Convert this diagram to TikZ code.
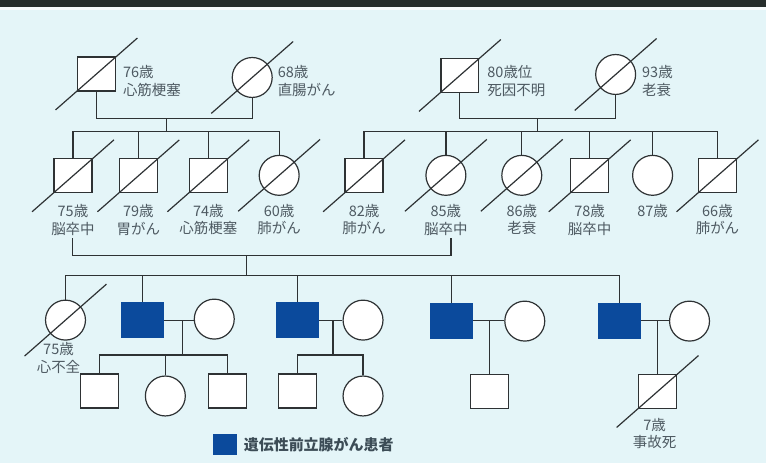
\documentclass[tikz,border=0pt]{standalone}
\usepackage{fontspec}
\setmainfont{Noto Sans CJK JP}
\usetikzlibrary{calc}
\definecolor{bg}{HTML}{E4F5F8}
\definecolor{band}{HTML}{262E2C}
\definecolor{ln}{HTML}{2E3234}
\definecolor{txt}{HTML}{4E5A62}
\definecolor{pblue}{HTML}{0B4A9C}
\definecolor{legtxt}{HTML}{3C4C56}
\tikzset{
  x=1pt, y=-1pt,
  every path/.style={line width=1.2pt, draw=ln},
  male/.style={rectangle, draw=ln, fill=white, line width=1.2pt, minimum width=38pt, minimum height=34pt, inner sep=0pt},
  female/.style={circle, draw=ln, fill=white, line width=1.2pt, minimum size=40pt, inner sep=0pt},
  patient/.style={rectangle, draw=pblue, fill=pblue, minimum width=42pt, minimum height=35pt, inner sep=0pt},
  lbl/.style={text=txt, font=\fontsize{14.5}{17.5}\selectfont, inner sep=0pt, align=center},
  lbll/.style={lbl, align=left, anchor=west},
}
\newcommand{\deadmark}[1]{\draw ($(#1)+(-41,36)$) -- ($(#1)+(41,-36)$);}
\begin{document}
\begin{tikzpicture}
\useasboundingbox (0,0) rectangle (766,463);
\fill[bg] (0,0) rectangle (766,463);
\fill[band] (0,0) rectangle (766,7);
\fill[white!70!bg] (0,7) rectangle (766,9);

% ---- generation 1 ----
\node[male]   (a1) at (96,73.5) {};
\node[female] (b1) at (252,77) {};
\node[male]   (a2) at (460,75) {};
\node[female] (b2) at (616,74) {};
\deadmark{a1}\deadmark{b1}\deadmark{a2}\deadmark{b2}
\node[lbll] (la1) at (122,80.5) {76歳\\心筋梗塞};
\node[lbll] (lb1) at (277,80.5) {68歳\\直腸がん};
\node[lbll] (la2) at (487,80.5) {80歳位\\死因不明};
\node[lbll] (lb2) at (642,80.5) {93歳\\老衰};

\coordinate (m1) at (166,118);
\coordinate (s1) at (166,131);
\coordinate (m2) at (538,118);
\coordinate (s2) at (538,131);
\draw (a1.south) |- (m1) -| (b1.south);
\draw (a2.south) |- (m2) -| (b2.south);
\draw (m1) -- (s1);
\draw (m2) -- (s2);

% ---- generation 2 ----
\node[male]   (c1) at (72.5,175.5) {};
\node[male]   (c2) at (138,175.5) {};
\node[male]   (c3) at (208,175.5) {};
\node[female] (c4) at (279,175) {};
\node[male]   (d1) at (364,175.5) {};
\node[female] (d2) at (446,175) {};
\node[female] (d3) at (522,175) {};
\node[male]   (d4) at (590,175.5) {};
\node[female] (d5) at (653,175) {};
\node[male]   (d6) at (718,175.5) {};
\foreach \n in {c1,c2,c3,c4,d1,d2,d3,d4,d6} {\deadmark{\n}}
\draw (c1.north) |- (s1) -| (c4.north);
\foreach \n in {c2,c3} {\draw (\n.north) -- (\n.north |- s1);}
\draw (d1.north) |- (s2) -| (d6.north);
\foreach \n in {d2,d3,d4,d5} {\draw (\n.north) -- (\n.north |- s2);}

\node[lbl] (lc1) at (72.5,219.5) {75歳\\脳卒中};
\node[lbl] (lc2) at (138,219.5) {79歳\\胃がん};
\node[lbl] (lc3) at (208,219.5) {74歳\\心筋梗塞};
\node[lbl] (lc4) at (279,219.5) {60歳\\肺がん};
\node[lbl] (ld1) at (364,219.5) {82歳\\肺がん};
\node[lbl] (ld2) at (446,219.5) {85歳\\脳卒中};
\node[lbl] (ld3) at (522,219.5) {86歳\\老衰};
\node[lbl] (ld4) at (590,219.5) {78歳\\脳卒中};
\node[lbl] (ld5) at (653,211) {87歳};
\node[lbl] (ld6) at (718,219.5) {66歳\\肺がん};

% marriage of c1 and d2
\coordinate (ml) at (72,238);
\coordinate (mr) at (451,238);
\coordinate (m3) at (246,255);
\coordinate (s3) at (246,275);
\draw (ml) |- (m3) -| (mr);
\draw (m3) -- (s3);

% ---- generation 3 ----
\node[female]  (e1) at (65,320) {};
\node[patient] (e2) at (142,319.5) {};
\node[patient] (e3) at (297,320) {};
\node[patient] (e4) at (452,320.5) {};
\node[patient] (e5) at (620,320.5) {};
\deadmark{e1}
\node[lbl] (le1) at (58,358) {75歳\\心不全};
\draw (e1.north) |- (s3) -| (e5.north);
\foreach \n in {e2,e3,e4} {\draw (\n.north) -- (\n.north |- s3);}

\node[female] (w2) at (214,319) {};
\node[female] (w3) at (363,320) {};
\node[female] (w4) at (525,321) {};
\node[female] (w5) at (690,321) {};

\coordinate (j2) at (182,320);
\coordinate (j3) at (333,320);
\coordinate (j4) at (490,320);
\coordinate (j5) at (658,320);
\draw (e2.east |- j2) -- (w2.west |- j2);
\draw (e3.east |- j3) -- (w3.west |- j3);
\draw (e4.east |- j4) -- (w4.west |- j4);
\draw (e5.east |- j5) -- (w5.west |- j5);

% ---- generation 4 ----
\node[male]   (f1) at (99,391) {};
\node[female] (f2) at (165,396) {};
\node[male]   (f3) at (227,391) {};
\node[male]   (g1) at (297,391) {};
\node[female] (g2) at (363,396) {};
\node[male]   (h1) at (490,391.5) {};
\node[male]   (k1) at (658,391.5) {};
\deadmark{k1}
\node[lbl] (lk1) at (655,433.5) {7歳\\事故死};

\coordinate (s4) at (182,355);
\coordinate (s5) at (333,355);
\draw (j2) -- (s4);
\draw (f1.north) |- (s4) -| (f3.north);
\draw (f2.north) -- (f2.north |- s4);
\draw (j3) -- (s5);
\draw (g1.north) |- (s5) -| (g2.north);
\draw (j4) -- (h1.north);
\draw (j5) -- (k1.north);

% ---- legend ----
\node[patient, minimum width=23pt, minimum height=19pt] (leg) at (224.5,444.5) {};
\node[anchor=west, inner sep=0pt, text=legtxt, font=\fontsize{15}{18}\selectfont\bfseries] (legt) at (243,445) {遺伝性前立腺がん患者};
\end{tikzpicture}
\end{document}
